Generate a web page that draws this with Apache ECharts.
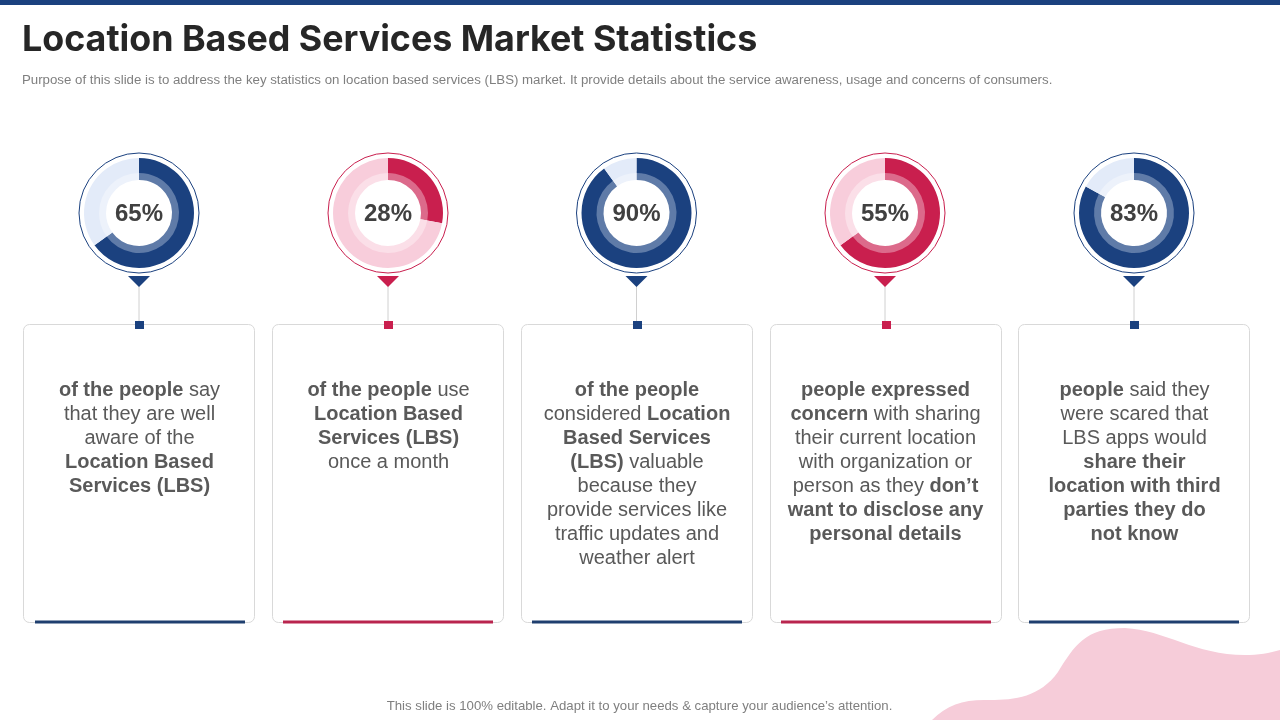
<!DOCTYPE html>
<html>
<head>
    <meta charset="utf-8">
    <title>Location Based Services Market Statistics</title>
    <script src="https://cdnjs.cloudflare.com/ajax/libs/echarts/6.0.0/echarts.min.js"></script>
    <style>
        html, body { margin: 0; padding: 0; background: #fff; }
        #main { width: 1280px; height: 720px; }
    </style>
</head>
<body>
<div id="main"></div>
<script>
    // data
    const percentLabels = ['65%', '28%', '90%', '55%', '83%'];
    // share of the ring actually filled, the 55% donut is drawn at about 65 on the slide
    const ringShares = [65, 28, 90, 65, 83];
    const centers = [139, 388, 636.5, 885, 1134];
    const themes = ['navy', 'red', 'navy', 'red', 'navy'];
    const cardLefts = [23, 272, 521, 770, 1018];
    const barLefts = [35, 283, 532, 781, 1029];
    const cardTexts = [
        ['{b|of the people} say', 'that they are well', 'aware of the', '{b|Location Based}', '{b|Services (LBS)}'],
        ['{b|of the people} use', '{b|Location Based}', '{b|Services (LBS)}', 'once a month'],
        ['{b|of the people}', 'considered {b|Location}', '{b|Based Services}', '{b|(LBS)} valuable', 'because they', 'provide services like', 'traffic updates and', 'weather alert'],
        ['{b|people expressed}', '{b|concern} with sharing', 'their current location', 'with organization or', 'person as they {b|don’t}', '{b|want to disclose any}', '{b|personal details}'],
        ['{b|people} said they', 'were scared that', 'LBS apps would', '{b|share their}', '{b|location with third}', '{b|parties they do}', '{b|not know}']
    ];
    const titleText = 'Location Based Services Market Statistics';
    const subText = 'Purpose of this slide is to address the key statistics on location based services (LBS) market. It provide details about the service awareness, usage and concerns of consumers.';
    const footText = 'This slide is 100% editable. Adapt it to your needs & capture your audience’s attention.';

    const palette = {
        navy: { main: '#1b417f', inner: '#5f7ba8', track: '#e3ebf9', innerTrack: '#edf2fb', bar: '#1f3f6f' },
        red: { main: '#c91f4e', inner: '#dc6a8b', track: '#f8cddb', innerTrack: '#fbdfe8', bar: '#b9254e' }
    };
    const sans = '"Liberation Sans", Arial, sans-serif';

    let series = [];
    let graphics = [];

    // pink blob in the corner, graphic has no path type so it goes through a custom series
    series.push({
        type: 'custom',
        coordinateSystem: 'none',
        silent: true,
        data: [0],
        renderItem: function () {
            return {
                type: 'path',
                shape: {
                    pathData: 'M932 720 C948 704 965 699 990 700 C1015 700 1040 697 1058 672 C1075 645 1085 628 1125 628 C1165 630 1195 655 1245 655 C1258 655 1270 653 1280 650 L1280 720 Z',
                    layout: 'cover', x: 932, y: 628, width: 348, height: 92
                },
                style: { fill: '#f6ccd9' }
            };
        }
    });

    graphics.push({ type: 'rect', shape: { x: 0, y: 0, width: 1280, height: 5 }, style: { fill: '#1b417f' } });
    graphics.push({ type: 'text', style: { text: titleText, x: 22, y: 40, font: 'bold 35.8px Inter, sans-serif', fill: '#262626', textAlign: 'left', textVerticalAlign: 'middle' } });
    graphics.push({ type: 'text', style: { text: subText, x: 22, y: 80, font: '13.25px ' + sans, fill: '#7f7f7f', textAlign: 'left', textVerticalAlign: 'middle' } });
    graphics.push({ type: 'text', style: { text: footText, x: 639.5, y: 706, font: '13.2px ' + sans, fill: '#7f7f7f', textAlign: 'center', textVerticalAlign: 'middle' } });

    ringShares.forEach(function (share, i) {
        const cx = centers[i];
        const c = palette[themes[i]];
        const left = cardLefts[i];

        // card
        graphics.push({ type: 'rect', shape: { x: left + 0.5, y: 324.5, width: 231, height: 298, r: 6 }, style: { fill: '#fff', stroke: '#d9d9d9', lineWidth: 1 } });
        graphics.push({ type: 'rect', shape: { x: barLefts[i], y: 620.5, width: 210, height: 3 }, style: { fill: c.bar } });

        // pointer down to the card
        graphics.push({ type: 'line', shape: { x1: cx, y1: 286, x2: cx, y2: 322 }, style: { stroke: '#d0d0d0', lineWidth: 1 } });
        graphics.push({ type: 'polygon', shape: { points: [[cx - 11, 276], [cx + 11, 276], [cx, 287]] }, style: { fill: c.main } });
        graphics.push({ type: 'rect', shape: { x: left + 112, y: 321, width: 9, height: 8 }, style: { fill: c.main } });

        // outline around the donut
        graphics.push({ type: 'circle', shape: { cx: cx, cy: 213, r: 60 }, style: { fill: 'none', stroke: c.main, lineWidth: 1 } });

        // card text
        graphics.push({
            type: 'text',
            style: {
                text: cardTexts[i].join('\n'),
                x: cx + 0.5, y: 378,
                textAlign: 'center', textVerticalAlign: 'top',
                font: '20px ' + sans, fill: '#595959', lineHeight: 24,
                rich: { b: { font: 'bold 20px ' + sans, fill: '#595959', lineHeight: 24 } }
            }
        });

        const base = {
            type: 'pie', silent: true, animation: false, center: [cx, 213], startAngle: 90, clockwise: true,
            labelLine: { show: false }, label: { show: false }
        };
        // inner ring first, the outer one overlaps it so no seam shows between them
        series.push(Object.assign({}, base, {
            radius: [33, 42],
            label: { show: true, position: 'center', formatter: percentLabels[i], fontFamily: sans, fontWeight: 'bold', fontSize: 24, color: '#404040', offset: [0, 1] },
            data: [
                { value: share, itemStyle: { color: c.inner, borderWidth: 0, borderColor: 'transparent' } },
                { value: 100 - share, itemStyle: { color: c.innerTrack, borderWidth: 0, borderColor: 'transparent' }, label: { show: false } }
            ]
        }));
        series.push(Object.assign({}, base, {
            radius: [40, 55],
            data: [
                { value: share, itemStyle: { color: c.main, borderWidth: 0, borderColor: 'transparent' } },
                { value: 100 - share, itemStyle: { color: c.track, borderWidth: 0, borderColor: 'transparent' } }
            ]
        }));
    });

    const myChart = echarts.init(document.getElementById('main'), null, { renderer: 'canvas' });
    myChart.setOption({
        animation: false,
        backgroundColor: '#fff',
        graphic: { elements: graphics },
        series: series
    });
</script>
</body>
</html>
